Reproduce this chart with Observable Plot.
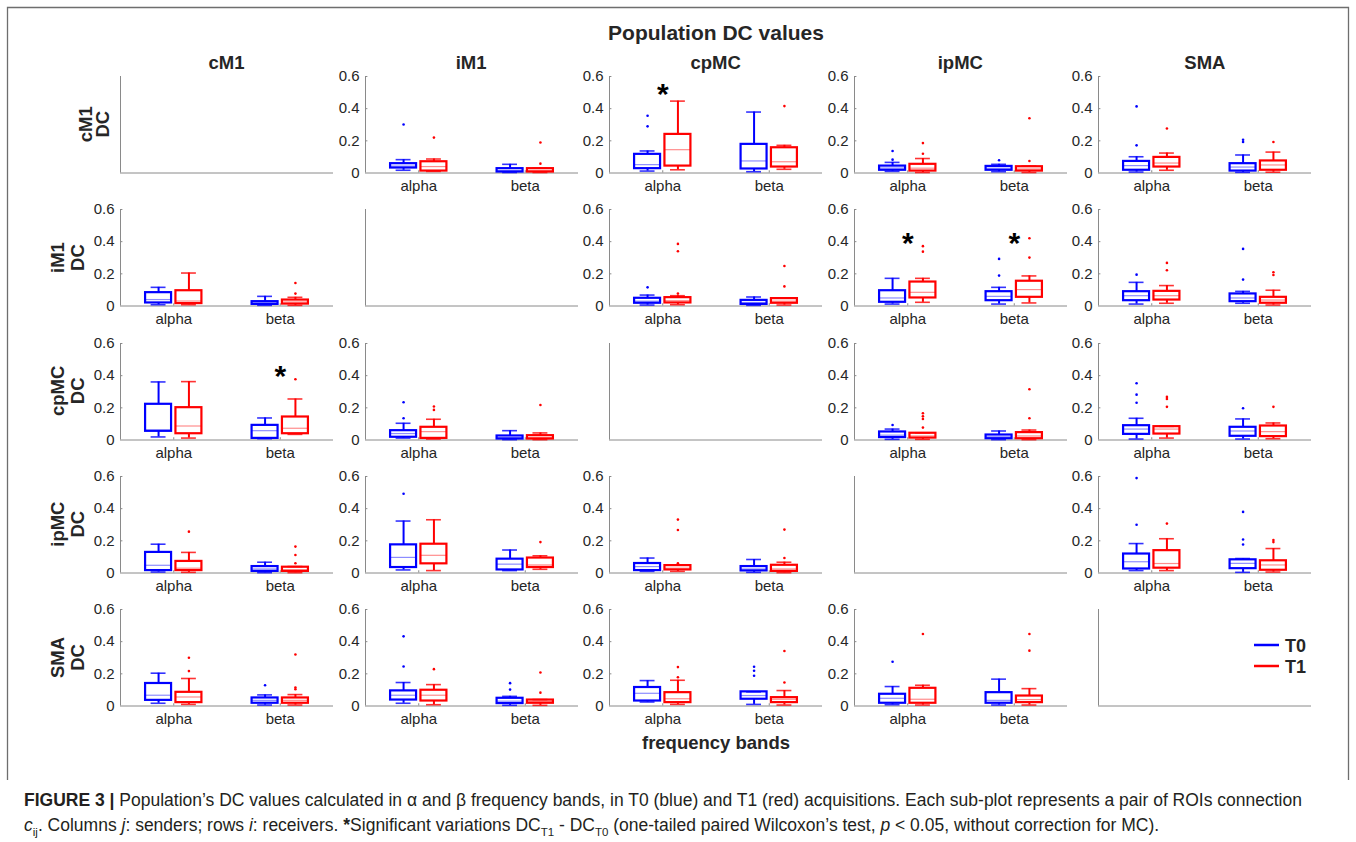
<!DOCTYPE html>
<html><head><meta charset="utf-8">
<script src="https://cdn.jsdelivr.net/npm/d3@7"></script>
<script src="https://cdn.jsdelivr.net/npm/@observablehq/plot@0.6"></script>
<style>
body{margin:0;background:#fff;}
#fig{position:relative;width:1356px;height:842px;overflow:hidden;font-family:"Liberation Sans",Arial,sans-serif;background:#fff;}
.panel{position:absolute;}
#overlay{position:absolute;left:0;top:0;}
#caption{position:absolute;left:24px;top:788px;font-size:17.5px;line-height:25px;color:#231f20;white-space:nowrap;}
#caption sub{font-size:11.5px;line-height:0;}
</style></head><body><div id="fig"></div>
<script>
const rois = ["cM1", "iM1", "cpMC", "ipMC", "SMA"];
const bands = ["alpha", "beta"];
const sessions = ["T0", "T1"];
const yTicks = [0, 0.2, 0.4, 0.6];

// [sender, band, session, lowWhisker, q1, median, q3, highWhisker]
const statsToCM1 = [
  ["iM1","alpha","T0",0.017,0.031,0.043,0.058,0.083],["iM1","alpha","T1",0.010,0.012,0.040,0.070,0.087],
  ["iM1","beta","T0",0.003,0.006,0.015,0.027,0.054],["iM1","beta","T1",0.003,0.006,0.015,0.027,0.030],
  ["cpMC","alpha","T0",0.012,0.027,0.052,0.116,0.137],["cpMC","alpha","T1",0.020,0.043,0.145,0.240,0.447],
  ["cpMC","beta","T0",0.008,0.025,0.075,0.178,0.379],["cpMC","beta","T1",0.023,0.037,0.070,0.157,0.172],
  ["ipMC","alpha","T0",0.010,0.017,0.031,0.043,0.066],["ipMC","alpha","T1",0.003,0.012,0.030,0.054,0.090],
  ["ipMC","beta","T0",0.008,0.017,0.030,0.041,0.054],["ipMC","beta","T1",0.003,0.012,0.025,0.039,0.043],
  ["SMA","alpha","T0",0.006,0.017,0.046,0.072,0.101],["SMA","alpha","T1",0.017,0.037,0.062,0.097,0.124],
  ["SMA","beta","T0",0.004,0.012,0.037,0.058,0.112],["SMA","beta","T1",0.005,0.017,0.050,0.075,0.130]
];
const statsToIM1 = [
  ["cM1","alpha","T0",0.008,0.019,0.040,0.083,0.116],["cM1","alpha","T1",0.008,0.015,0.031,0.095,0.205],
  ["cM1","beta","T0",0.004,0.010,0.018,0.027,0.060],["cM1","beta","T1",0.004,0.012,0.025,0.037,0.054],
  ["cpMC","alpha","T0",0.006,0.017,0.030,0.048,0.068],["cpMC","alpha","T1",0.008,0.019,0.033,0.052,0.064],
  ["cpMC","beta","T0",0.004,0.010,0.022,0.035,0.056],["cpMC","beta","T1",0.006,0.017,0.030,0.046,0.050],
  ["ipMC","alpha","T0",0.012,0.023,0.050,0.095,0.172],["ipMC","alpha","T1",0.023,0.050,0.085,0.149,0.172],
  ["ipMC","beta","T0",0.012,0.033,0.060,0.089,0.116],["ipMC","beta","T1",0.019,0.054,0.102,0.154,0.187],
  ["SMA","alpha","T0",0.012,0.033,0.064,0.089,0.147],["SMA","alpha","T1",0.017,0.037,0.064,0.091,0.127],
  ["SMA","beta","T0",0.017,0.027,0.050,0.075,0.091],["SMA","beta","T1",0.006,0.017,0.037,0.054,0.098]
];
const statsToCPMC = [
  ["cM1","alpha","T0",0.019,0.054,0.062,0.222,0.361],["cM1","alpha","T1",0.012,0.039,0.087,0.201,0.363],
  ["cM1","beta","T0",0.008,0.010,0.058,0.091,0.137],["cM1","beta","T1",0.035,0.039,0.073,0.143,0.255],
  ["iM1","alpha","T0",0.012,0.017,0.040,0.058,0.104],["iM1","alpha","T1",0.006,0.010,0.052,0.079,0.129],
  ["iM1","beta","T0",0.002,0.006,0.015,0.025,0.058],["iM1","beta","T1",0.002,0.006,0.015,0.027,0.044],
  ["ipMC","alpha","T0",0.004,0.015,0.030,0.050,0.068],["ipMC","alpha","T1",0.004,0.012,0.025,0.042,0.045],
  ["ipMC","beta","T0",0.002,0.008,0.020,0.031,0.056],["ipMC","beta","T1",0.002,0.008,0.025,0.046,0.062],
  ["SMA","alpha","T0",0.006,0.035,0.068,0.089,0.135],["SMA","alpha","T1",0.012,0.037,0.068,0.083,0.085],
  ["SMA","beta","T0",0.006,0.023,0.056,0.079,0.131],["SMA","beta","T1",0.008,0.021,0.052,0.087,0.106]
];
const statsToIPMC = [
  ["cM1","alpha","T0",0.006,0.015,0.048,0.128,0.179],["cM1","alpha","T1",0.004,0.015,0.030,0.072,0.128],
  ["cM1","beta","T0",0.002,0.010,0.025,0.040,0.067],["cM1","beta","T1",0.002,0.010,0.020,0.036,0.040],
  ["iM1","alpha","T0",0.019,0.034,0.097,0.175,0.323],["iM1","alpha","T1",0.015,0.057,0.110,0.179,0.331],
  ["iM1","beta","T0",0.015,0.019,0.055,0.086,0.143],["iM1","beta","T1",0.023,0.034,0.050,0.093,0.107],
  ["cpMC","alpha","T0",0.010,0.015,0.040,0.059,0.093],["cpMC","alpha","T1",0.010,0.019,0.030,0.046,0.050],
  ["cpMC","beta","T0",0.004,0.013,0.025,0.040,0.084],["cpMC","beta","T1",0.002,0.010,0.025,0.048,0.067],
  ["SMA","alpha","T0",0.015,0.025,0.070,0.118,0.183],["SMA","alpha","T1",0.015,0.030,0.059,0.139,0.213],
  ["SMA","beta","T0",0.004,0.027,0.060,0.082,0.090],["SMA","beta","T1",0.006,0.017,0.050,0.076,0.152]
];
const statsToSMA = [
  ["cM1","alpha","T0",0.017,0.035,0.067,0.140,0.204],["cM1","alpha","T1",0.010,0.021,0.056,0.085,0.171],
  ["cM1","beta","T0",0.006,0.017,0.035,0.050,0.069],["cM1","beta","T1",0.006,0.017,0.035,0.050,0.071],
  ["iM1","alpha","T0",0.017,0.037,0.067,0.094,0.146],["iM1","alpha","T1",0.008,0.031,0.067,0.098,0.133],
  ["iM1","beta","T0",0.004,0.015,0.030,0.048,0.060],["iM1","beta","T1",0.004,0.017,0.027,0.037,0.040],
  ["cpMC","alpha","T0",0.025,0.031,0.079,0.115,0.158],["cpMC","alpha","T1",0.010,0.021,0.045,0.083,0.160],
  ["cpMC","beta","T0",0.010,0.042,0.065,0.088,0.088],["cpMC","beta","T1",0.006,0.021,0.042,0.052,0.096],
  ["ipMC","alpha","T0",0.008,0.017,0.048,0.073,0.121],["ipMC","alpha","T1",0.006,0.017,0.042,0.110,0.129],
  ["ipMC","beta","T0",0.006,0.017,0.035,0.083,0.167],["ipMC","beta","T1",0.006,0.021,0.040,0.062,0.108]
];

// [sender, band, session, value]
const outliersToCM1 = [
  ["iM1","alpha","T0",0.302],["iM1","alpha","T1",0.220],["iM1","beta","T1",0.190],["iM1","beta","T1",0.058],
  ["cpMC","alpha","T0",0.290],["cpMC","alpha","T0",0.356],["cpMC","beta","T1",0.416],
  ["ipMC","alpha","T0",0.083],["ipMC","alpha","T0",0.137],["ipMC","alpha","T1",0.120],["ipMC","alpha","T1",0.186],
  ["ipMC","beta","T0",0.079],["ipMC","beta","T1",0.075],["ipMC","beta","T1",0.340],
  ["SMA","alpha","T0",0.172],["SMA","alpha","T0",0.414],["SMA","alpha","T1",0.277],
  ["SMA","beta","T0",0.193],["SMA","beta","T0",0.207],["SMA","beta","T1",0.193]
];
const outliersToIM1 = [
  ["cM1","beta","T1",0.077],["cM1","beta","T1",0.143],
  ["cpMC","alpha","T0",0.116],["cpMC","alpha","T1",0.077],["cpMC","alpha","T1",0.340],["cpMC","alpha","T1",0.386],
  ["cpMC","beta","T1",0.122],["cpMC","beta","T1",0.249],
  ["ipMC","alpha","T1",0.338],["ipMC","alpha","T1",0.372],["ipMC","beta","T0",0.189],["ipMC","beta","T0",0.293],
  ["ipMC","beta","T1",0.301],["ipMC","beta","T1",0.421],
  ["SMA","alpha","T0",0.195],["SMA","alpha","T1",0.222],["SMA","alpha","T1",0.268],
  ["SMA","beta","T0",0.164],["SMA","beta","T0",0.355],["SMA","beta","T1",0.193],["SMA","beta","T1",0.210]
];
const outliersToCPMC = [
  ["cM1","beta","T1",0.378],
  ["iM1","alpha","T0",0.135],["iM1","alpha","T0",0.235],["iM1","alpha","T1",0.187],["iM1","alpha","T1",0.208],
  ["iM1","beta","T1",0.218],
  ["ipMC","alpha","T0",0.093],["ipMC","alpha","T1",0.077],["ipMC","alpha","T1",0.131],["ipMC","alpha","T1",0.147],
  ["ipMC","alpha","T1",0.166],["ipMC","beta","T1",0.135],["ipMC","beta","T1",0.316],
  ["SMA","alpha","T0",0.232],["SMA","alpha","T0",0.282],["SMA","alpha","T0",0.353],
  ["SMA","alpha","T1",0.206],["SMA","alpha","T1",0.255],["SMA","alpha","T1",0.268],
  ["SMA","beta","T0",0.197],["SMA","beta","T1",0.206]
];
const outliersToIPMC = [
  ["cM1","alpha","T1",0.257],["cM1","beta","T1",0.061],["cM1","beta","T1",0.112],["cM1","beta","T1",0.164],
  ["iM1","alpha","T0",0.493],["iM1","beta","T1",0.192],
  ["cpMC","alpha","T1",0.061],["cpMC","alpha","T1",0.267],["cpMC","alpha","T1",0.332],
  ["cpMC","beta","T1",0.093],["cpMC","beta","T1",0.270],
  ["SMA","alpha","T0",0.300],["SMA","alpha","T0",0.590],["SMA","alpha","T1",0.307],
  ["SMA","beta","T0",0.177],["SMA","beta","T0",0.208],["SMA","beta","T0",0.380],
  ["SMA","beta","T1",0.192],["SMA","beta","T1",0.205]
];
const outliersToSMA = [
  ["cM1","alpha","T1",0.217],["cM1","alpha","T1",0.300],["cM1","beta","T0",0.129],
  ["cM1","beta","T1",0.104],["cM1","beta","T1",0.115],["cM1","beta","T1",0.320],
  ["iM1","alpha","T0",0.246],["iM1","alpha","T0",0.433],["iM1","alpha","T1",0.229],
  ["iM1","beta","T0",0.102],["iM1","beta","T0",0.142],["iM1","beta","T1",0.083],["iM1","beta","T1",0.208],
  ["cpMC","alpha","T1",0.179],["cpMC","alpha","T1",0.242],
  ["cpMC","beta","T0",0.188],["cpMC","beta","T0",0.219],["cpMC","beta","T0",0.244],
  ["cpMC","beta","T1",0.146],["cpMC","beta","T1",0.342],
  ["ipMC","alpha","T0",0.275],["ipMC","alpha","T1",0.448],["ipMC","beta","T1",0.344],["ipMC","beta","T1",0.448]
];

// [receiver, sender, band, star height]
const significant = [
  ["cM1","cpMC","alpha",0.53],["iM1","ipMC","alpha",0.43],["iM1","ipMC","beta",0.43],["cpMC","cM1","beta",0.44]
];

const colors = ["#0000ff", "#ff0000"];

// ---- build tables ----
const statSets = [statsToCM1, statsToIM1, statsToCPMC, statsToIPMC, statsToSMA];
const outSets = [outliersToCM1, outliersToIM1, outliersToCPMC, outliersToIPMC, outliersToSMA];
const stats = statSets.flatMap((set, i) => set.map(([sender, band, session, lo, q1, med, q3, hi]) =>
  ({receiver: rois[i], sender, band, session, lo, q1, med, q3, hi})));
const outliers = outSets.flatMap((set, i) => set.map(([sender, band, session, value]) =>
  ({receiver: rois[i], sender, band, session, value})));
const stars = significant.map(([receiver, sender, band, h]) => ({receiver, sender, band, h}));

// ---- layout ----
const PW = 213, PH = 96.5;
const ML = 48, MR = 6, MT = 6, MB = 30;
const colLeft = j => 120 + 244.6 * j;
const rowTop = i => 76 + 133.3 * i;
const axisColor = "#8a8a8a";
const textColor = "#262626";
const FONT = "'Liberation Sans', Arial, sans-serif";

const bandX = b => bands.indexOf(b) * 2 + 1;
const OFF = 0.285, HW = 0.244, CW = 0.14;
const cx = d => bandX(d.band) + (d.session === "T0" ? -OFF : OFF);

const fig = document.getElementById("fig");

function panel(rec, sen) {
  const diag = rec === sen;
  const st = stats.filter(d => d.receiver === rec && d.sender === sen);
  const outs = outliers.filter(d => d.receiver === rec && d.sender === sen);
  const sig = stars.filter(d => d.receiver === rec && d.sender === sen);
  const marks = [
    Plot.ruleY([0], {stroke: axisColor, strokeWidth: 1}),
    Plot.ruleX([0], {stroke: axisColor, strokeWidth: 1})
  ];
  if (!diag) {
    marks.push(
      Plot.ruleY(yTicks.slice(1), {x1: 0, x2: 0.045, stroke: axisColor}),
      Plot.ruleX(bands, {x: bandX, y1: 0, y2: 0.014, stroke: axisColor}),
      Plot.text(yTicks, {y: d => d, frameAnchor: "left", textAnchor: "end", dx: -6, text: d => String(d), fontSize: 15, fill: textColor}),
      Plot.text(bands, {x: bandX, frameAnchor: "bottom", lineAnchor: "top", dy: 7, text: d => d, fontSize: 15, fill: textColor}),
      Plot.rect(st, {x1: d => cx(d) - HW, x2: d => cx(d) + HW, y1: "q1", y2: "q3", fill: "none", stroke: "session", strokeWidth: 2.2}),
      Plot.ruleX(st, {x: cx, y1: "q3", y2: "hi", stroke: "session", strokeWidth: 2}),
      Plot.ruleX(st, {x: cx, y1: "lo", y2: "q1", stroke: "session", strokeWidth: 2}),
      Plot.ruleY(st, {y: "hi", x1: d => cx(d) - CW, x2: d => cx(d) + CW, stroke: "session", strokeWidth: 1.6, strokeOpacity: 0.8}),
      Plot.ruleY(st, {y: "lo", x1: d => cx(d) - CW, x2: d => cx(d) + CW, stroke: "session", strokeWidth: 1.6, strokeOpacity: 0.8}),
      Plot.ruleY(st, {y: "med", x1: d => cx(d) - HW, x2: d => cx(d) + HW, stroke: "session", strokeWidth: 1.2, strokeOpacity: 0.45}),
      Plot.dot(outs, {x: cx, y: "value", r: 1.3, fill: "session"}),
      Plot.text(sig, {x: d => bandX(d.band), y: "h", text: () => "*", fontSize: 30, fontWeight: "bold", fill: "#000", dy: 7})
    );
  }
  return Plot.plot({
    width: PW + ML + MR, height: PH + MT + MB,
    marginLeft: ML, marginRight: MR, marginTop: MT, marginBottom: MB,
    x: {domain: [0, 4], axis: null},
    y: {domain: [0, 0.6], axis: null},
    color: {domain: sessions, range: colors},
    style: {fontFamily: FONT, color: textColor, background: "transparent", overflow: "visible"},
    marks
  });
}

rois.forEach((rec, i) => {
  rois.forEach((sen, j) => {
    const svg = panel(rec, sen);
    svg.classList.add("panel");
    svg.style.left = (colLeft(j) - ML) + "px";
    svg.style.top = (rowTop(i) - MT) + "px";
    fig.appendChild(svg);
  });
});

// ---- overlay: frame, titles, row labels, legend ----
const ov = d3.select(fig).append("svg").attr("id", "overlay").attr("width", 1356).attr("height", 842)
  .style("font-family", FONT);
ov.append("path").attr("d", "M7.5,780V7.5H1348.5V780").attr("fill", "none").attr("stroke", "#6e6e6e").attr("stroke-width", 1.3);
ov.append("text").attr("x", 716).attr("y", 40).attr("text-anchor", "middle").attr("font-size", 21)
  .attr("font-weight", "bold").attr("fill", textColor).text("Population DC values");
rois.forEach((r, j) => {
  ov.append("text").attr("x", colLeft(j) + PW / 2).attr("y", 69).attr("text-anchor", "middle")
    .attr("font-size", 18.5).attr("font-weight", "bold").attr("fill", textColor).text(r);
});
rois.forEach((r, i) => {
  const yc = rowTop(i) + PH / 2;
  const x1 = i === 0 ? 85 : 57, x2 = i === 0 ? 102 : 77;
  [[r, x1], ["DC", x2]].forEach(([t, xc]) => {
    ov.append("text").attr("transform", `translate(${xc + 6.6},${yc}) rotate(-90)`).attr("text-anchor", "middle")
      .attr("font-size", 18.5).attr("font-weight", "bold").attr("fill", textColor).text(t);
  });
});
ov.append("text").attr("x", 716).attr("y", 749).attr("text-anchor", "middle").attr("font-size", 18.5)
  .attr("font-weight", "bold").attr("fill", textColor).text("frequency bands");
sessions.forEach((s, k) => {
  const y = 645 + 21 * k;
  ov.append("line").attr("x1", 1254).attr("x2", 1279).attr("y1", y).attr("y2", y).attr("stroke", colors[k]).attr("stroke-width", 2.5);
  ov.append("text").attr("x", 1285).attr("y", y + 6.5).attr("font-size", 18).attr("font-weight", "bold").attr("fill", textColor).text(s);
});

// ---- caption ----
const cap = document.createElement("div");
cap.id = "caption";
cap.innerHTML = "<b>FIGURE 3 |</b> Population’s DC values calculated in α and β frequency bands, in T0 (blue) and T1 (red) acquisitions. Each sub-plot represents a pair of ROIs connection<br>" +
  "<i>c</i><sub>ij</sub>. Columns <i>j</i>: senders; rows <i>i</i>: receivers. <b>*</b>Significant variations DC<sub>T1</sub> - DC<sub>T0</sub> (one-tailed paired Wilcoxon’s test, <i>p</i> &lt; 0.05, without correction for MC).";
fig.appendChild(cap);
</script>
</body></html>
